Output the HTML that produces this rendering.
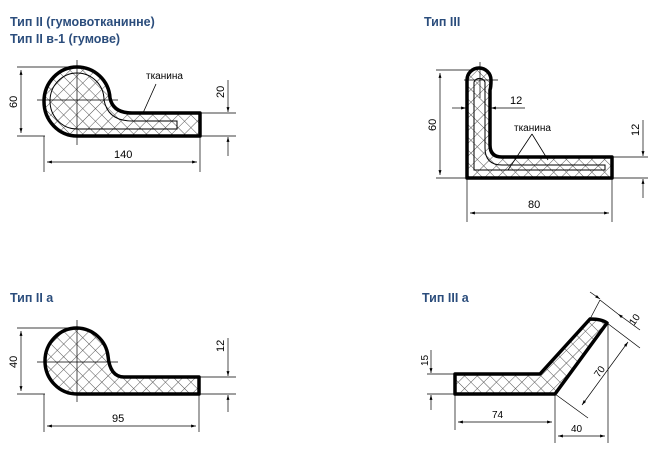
<!DOCTYPE html>
<html><head><meta charset="utf-8"><style>
body{margin:0;background:#fff;width:658px;height:465px;overflow:hidden}
.t{position:absolute;font:bold 12.5px "Liberation Sans",sans-serif;color:#2b4d7c;line-height:17px}
</style></head><body>
<div class="t" style="left:10px;top:14px">Тип II (гумовотканинне)<br>Тип II в-1 (гумове)</div>
<div class="t" style="left:424px;top:14px">Тип III</div>
<div class="t" style="left:10px;top:290px">Тип II a</div>
<div class="t" style="left:422px;top:290px">Тип III a</div>
<svg width="658" height="465" style="position:absolute;left:0;top:0" font-family="Liberation Sans,sans-serif">
<defs>
<pattern id="h" width="9" height="9" patternUnits="userSpaceOnUse" patternTransform="rotate(45)">
<rect width="9" height="9" fill="#fff"/><path d="M0 0H9M0 0V9" stroke="#555" stroke-width="1"/></pattern>
<marker id="a" viewBox="0 0 10 10" refX="10" refY="5" markerWidth="7" markerHeight="7" orient="auto-start-reverse"><path d="M0 2L10 5L0 8z" fill="#000"/></marker>
</defs>
<g stroke="#000" stroke-width="0.7" fill="none">
<!-- Type II -->
<path d="M17 67H80M17 136H45M200 136H236M200 113H236M44 136V172M200 136V172"/>
<line x1="21" y1="70" x2="21" y2="133" marker-start="url(#a)" marker-end="url(#a)"/>
<line x1="47" y1="162" x2="197" y2="162" marker-start="url(#a)" marker-end="url(#a)"/>
<line x1="228" y1="80" x2="228" y2="112" marker-end="url(#a)"/>
<line x1="228" y1="156" x2="228" y2="137" marker-end="url(#a)"/>
<!-- Type IIa -->
<path d="M17 328H80M17 394H45M199 394H236M199 377H236M44 394V432M199 394V432"/>
<line x1="21" y1="331" x2="21" y2="391" marker-start="url(#a)" marker-end="url(#a)"/>
<line x1="47" y1="426" x2="196" y2="426" marker-start="url(#a)" marker-end="url(#a)"/>
<line x1="228" y1="338" x2="228" y2="376" marker-end="url(#a)"/>
<line x1="228" y1="412" x2="228" y2="395" marker-end="url(#a)"/>
<!-- Type III -->
<path d="M436 70H480M436 178H470M612 157H648M612 178H648M467 178V222M612 178V222"/>
<line x1="440" y1="73" x2="440" y2="175" marker-start="url(#a)" marker-end="url(#a)"/>
<line x1="470" y1="213" x2="609" y2="213" marker-start="url(#a)" marker-end="url(#a)"/>
<line x1="452" y1="108" x2="466" y2="108" marker-end="url(#a)"/>
<line x1="525" y1="108" x2="491" y2="108" marker-end="url(#a)"/>
<line x1="643" y1="120" x2="643" y2="156" marker-end="url(#a)"/>
<line x1="643" y1="198" x2="643" y2="179" marker-end="url(#a)"/>
<!-- Type IIIa -->
<path d="M427 374H455M427 394H455M455 394V430M555 394V443M608 324V443M590 319L600 300M607 323L640 348M555 394L588 418M600 300L618 314"/>
<line x1="431" y1="350" x2="431" y2="373" marker-end="url(#a)"/>
<line x1="431" y1="410" x2="431" y2="395" marker-end="url(#a)"/>
<line x1="458" y1="422" x2="552" y2="422" marker-start="url(#a)" marker-end="url(#a)"/>
<line x1="558" y1="436" x2="605" y2="436" marker-start="url(#a)" marker-end="url(#a)"/>
<line x1="590" y1="292" x2="600" y2="299" marker-end="url(#a)"/>
<line x1="640" y1="330" x2="618" y2="314" marker-end="url(#a)"/>
<line x1="582" y1="405" x2="628" y2="342" marker-start="url(#a)" marker-end="url(#a)"/>
</g>
<!-- profiles -->
<g stroke="#000" stroke-width="3.5" fill="url(#h)" stroke-linejoin="round">
<path d="M77 136A33 34.5 0 0 1 77 67A33 33 0 0 1 110 98Q113 113 132 113L200 113L200 136Z"/>
<path d="M77 394A32 33 0 0 1 77 328A32 32 0 0 1 108 356Q110 377 124 377L199 377L199 394Z"/>
<path d="M467 178V80A12 12 0 0 1 491 80Q491 87 490 90V145Q490 157 502 157H612V178Z"/>
<path d="M455 374H540L590 319Q602 319 607 323L555 394H455Z"/>
</g>
<g stroke="#000" stroke-width="1" fill="none">
<path d="M77 129A27 28 0 0 1 77 73A27 27 0 0 1 104 100Q108 121 132 121H177V129Z"/>
<path d="M474 170V82A6 6 0 0 1 485 82V148Q485 165 502 165H605V170Z"/>
</g>
<g stroke="#000" stroke-width="0.7">
<path d="M77 60V145M37 100H118M77 320V402M37 362H118M480 62V98M464 80H498"/>
</g>
<g stroke="#000" stroke-width="0.8">
<path d="M156 84L143 113M532 134L508 170M532 134L548 160"/>
</g>
<g font-size="11" fill="#000">
<text x="146" y="79" font-size="10">тканина</text>
<text x="514" y="131" font-size="10">тканина</text>
<text x="114" y="158">140</text>
<text x="112" y="422">95</text>
<text x="528" y="208">80</text>
<text x="510" y="104">12</text>
<text x="492" y="418" font-size="10">74</text>
<text x="571" y="432" font-size="10">40</text>
<text transform="translate(17,108) rotate(-90)">60</text>
<text transform="translate(17,368) rotate(-90)">40</text>
<text transform="translate(224,98) rotate(-90)">20</text>
<text transform="translate(224,352) rotate(-90)">12</text>
<text transform="translate(436,131) rotate(-90)">60</text>
<text transform="translate(639,136) rotate(-90)">12</text>
<text transform="translate(428,366) rotate(-90)" font-size="10">15</text>
<text transform="translate(599,378) rotate(-55)" font-size="10">70</text>
<text transform="translate(634,326) rotate(-55)" font-size="10">10</text>
</g>
</svg>
</body></html>
